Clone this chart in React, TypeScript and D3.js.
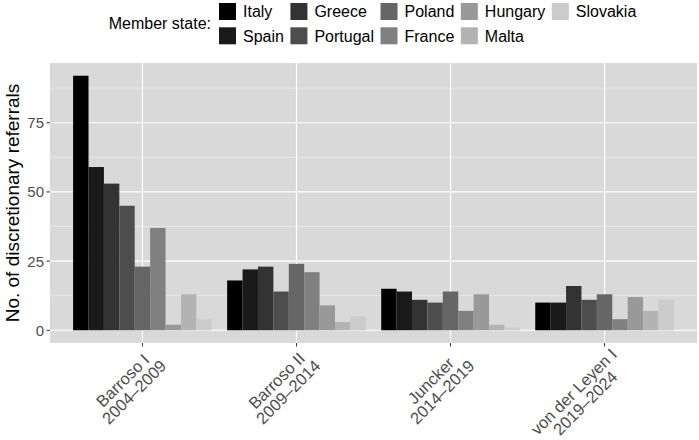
import React, { useEffect, useRef } from 'react'
import * as d3 from 'd3'

const memberStates = ['Italy', 'Spain', 'Greece', 'Portugal', 'Poland', 'France', 'Hungary', 'Malta', 'Slovakia']
const greyShades = ['#000000', '#1A1A1A', '#333333', '#4D4D4D', '#666666', '#808080', '#999999', '#B3B3B3', '#CCCCCC']

const commissionNames = ['Barroso I', 'Barroso II', 'Juncker', 'von der Leyen I']
const commissionTerms = ['2004–2009', '2009–2014', '2014–2019', '2019–2024']

// referrals per member state, same order as memberStates
const barrosoI = [92, 59, 53, 45, 23, 37, 2, 13, 4]
const barrosoII = [18, 22, 23, 14, 24, 21, 9, 3, 5]
const juncker = [15, 14, 11, 10, 14, 7, 13, 2, 1]
const vonDerLeyenI = [10, 10, 16, 11, 13, 4, 12, 7, 11]

const yTicks = [0, 25, 50, 75]
const yMinorTicks = [12.5, 37.5, 62.5, 87.5]

const FONT = "'Liberation Sans', Arial, Helvetica, sans-serif"

export default function App() {
  const svgRef = useRef<SVGSVGElement | null>(null)

  useEffect(() => {
    if (!svgRef.current) {
      return
    }

    const width = 699
    const height = 440
    const panel = { left: 50, right: 697, top: 63, bottom: 343 }

    const svg = d3.select(svgRef.current)
    svg.attr('viewBox', `0 0 ${width} ${height}`)
    svg.selectAll('*').remove()

    const canvas = document.createElement('canvas')
    const ctx = canvas.getContext('2d')
    const measure = (s: string, size: number) => {
      if (!ctx) {
        return s.length * size * 0.55
      }
      ctx.font = `${size}px 'Liberation Sans'`
      return ctx.measureText(s).width
    }

    const series = [barrosoI, barrosoII, juncker, vonDerLeyenI]
    const rows = commissionNames.map((name, i) => ({
      name,
      term: commissionTerms[i],
      values: memberStates.map((state, j) => ({ state, value: series[i][j] }))
    }))

    const maxValue = d3.max(series.flat()) ?? 0
    const yScale = d3
      .scaleLinear()
      .domain([-maxValue * 0.05, maxValue * 1.05])
      .range([panel.bottom, panel.top])

    const xScale = d3
      .scalePoint<string>()
      .domain(commissionNames)
      .range([panel.left, panel.right])
      .padding(0.6)

    const step = xScale.step()
    const inner = d3
      .scaleBand<string>()
      .domain(memberStates)
      .range([-0.45 * step, 0.45 * step])
      .padding(0)

    const fill = d3.scaleOrdinal<string, string>().domain(memberStates).range(greyShades)

    // panel background + grid
    svg
      .append('rect')
      .attr('x', panel.left)
      .attr('y', panel.top)
      .attr('width', panel.right - panel.left)
      .attr('height', panel.bottom - panel.top)
      .attr('fill', '#D9D9D9')

    const grid = svg.append('g')
    grid
      .selectAll('line.minor')
      .data(yMinorTicks)
      .enter()
      .append('line')
      .attr('class', 'minor')
      .attr('x1', panel.left)
      .attr('x2', panel.right)
      .attr('y1', (d) => yScale(d))
      .attr('y2', (d) => yScale(d))
      .attr('stroke', '#F2F2F2')
      .attr('stroke-width', 0.6)

    grid
      .selectAll('line.major')
      .data(yTicks)
      .enter()
      .append('line')
      .attr('class', 'major')
      .attr('x1', panel.left)
      .attr('x2', panel.right)
      .attr('y1', (d) => yScale(d))
      .attr('y2', (d) => yScale(d))
      .attr('stroke', '#FFFFFF')
      .attr('stroke-width', 1.2)

    grid
      .selectAll('line.vmajor')
      .data(commissionNames)
      .enter()
      .append('line')
      .attr('class', 'vmajor')
      .attr('x1', (d) => xScale(d) ?? 0)
      .attr('x2', (d) => xScale(d) ?? 0)
      .attr('y1', panel.top)
      .attr('y2', panel.bottom)
      .attr('stroke', '#FFFFFF')
      .attr('stroke-width', 1.2)

    // bars
    const groups = svg
      .append('g')
      .selectAll('g.group')
      .data(rows)
      .enter()
      .append('g')
      .attr('class', 'group')
      .attr('transform', (d) => `translate(${xScale(d.name) ?? 0},0)`)

    groups
      .selectAll('rect')
      .data((d) => d.values)
      .enter()
      .append('rect')
      .attr('x', (d) => inner(d.state) ?? 0)
      .attr('y', (d) => yScale(d.value))
      .attr('width', inner.bandwidth())
      .attr('height', (d) => yScale(0) - yScale(d.value))
      .attr('fill', (d) => fill(d.state))

    // y axis
    const yAxis = svg.append('g')
    yAxis
      .selectAll('line')
      .data(yTicks)
      .enter()
      .append('line')
      .attr('x1', panel.left - 3.5)
      .attr('x2', panel.left)
      .attr('y1', (d) => yScale(d))
      .attr('y2', (d) => yScale(d))
      .attr('stroke', '#333333')
      .attr('stroke-width', 1)

    yAxis
      .selectAll('text')
      .data(yTicks)
      .enter()
      .append('text')
      .attr('x', panel.left - 6)
      .attr('y', (d) => yScale(d))
      .attr('dy', '0.36em')
      .attr('text-anchor', 'end')
      .attr('font-family', FONT)
      .attr('font-size', 15)
      .attr('fill', '#4D4D4D')
      .text((d) => d)

    svg
      .append('text')
      .attr('transform', `translate(12,${(panel.top + panel.bottom) / 2}) rotate(-90)`)
      .attr('dy', '0.36em')
      .attr('text-anchor', 'middle')
      .attr('font-family', FONT)
      .attr('font-size', 19)
      .attr('fill', '#000000')
      .text('No. of discretionary referrals')

    // x axis
    const xAxis = svg.append('g')
    xAxis
      .selectAll('line')
      .data(commissionNames)
      .enter()
      .append('line')
      .attr('x1', (d) => xScale(d) ?? 0)
      .attr('x2', (d) => xScale(d) ?? 0)
      .attr('y1', panel.bottom)
      .attr('y2', panel.bottom + 3.5)
      .attr('stroke', '#333333')
      .attr('stroke-width', 1)

    const xLabelSize = 16.5
    const labels = xAxis
      .selectAll('text')
      .data(rows)
      .enter()
      .append('text')
      .attr('transform', (d) => `translate(${(xScale(d.name) ?? 0) + 3},${panel.bottom + 2}) rotate(-45)`)
      .attr('text-anchor', 'end')
      .attr('font-family', FONT)
      .attr('font-size', xLabelSize)
      .attr('fill', '#4D4D4D')

    // lines are centred on each other inside a right-aligned block
    const blockWidth = (d: { name: string; term: string }) =>
      Math.max(measure(d.name, xLabelSize), measure(d.term, xLabelSize))

    labels
      .append('tspan')
      .attr('x', (d) => -(blockWidth(d) - measure(d.name, xLabelSize)) / 2)
      .attr('dy', '0.9em')
      .text((d) => d.name)

    labels
      .append('tspan')
      .attr('x', (d) => -(blockWidth(d) - measure(d.term, xLabelSize)) / 2)
      .attr('dy', '0.98em')
      .text((d) => d.term)

    // legend
    const legendFontSize = 16
    const keySize = 17
    const keyGap = 7
    const colGap = 6.5
    const rowTops = [3, 27.3]
    const legendLeft = 219

    const columns = d3.range(Math.ceil(memberStates.length / 2)).map((c) => memberStates.slice(c * 2, c * 2 + 2))
    const columnX: number[] = []
    let cursor = legendLeft
    columns.forEach((col) => {
      columnX.push(cursor)
      cursor += keySize + keyGap + (d3.max(col, (s) => measure(s, legendFontSize)) ?? 0) + colGap
    })

    const legend = svg.append('g')
    legend
      .append('text')
      .attr('x', legendLeft - 8)
      .attr('y', (rowTops[0] + rowTops[1] + keySize) / 2)
      .attr('dy', '0.36em')
      .attr('text-anchor', 'end')
      .attr('font-family', FONT)
      .attr('font-size', legendFontSize)
      .attr('fill', '#000000')
      .text('Member state:')

    const items = legend
      .selectAll('g.item')
      .data(memberStates)
      .enter()
      .append('g')
      .attr('class', 'item')
      .attr('transform', (_, i) => `translate(${columnX[Math.floor(i / 2)]},${rowTops[i % 2]})`)

    items
      .append('rect')
      .attr('width', keySize)
      .attr('height', keySize)
      .attr('fill', (d) => fill(d))

    items
      .append('text')
      .attr('x', keySize + keyGap)
      .attr('y', keySize / 2)
      .attr('dy', '0.36em')
      .attr('font-family', FONT)
      .attr('font-size', legendFontSize)
      .attr('fill', '#000000')
      .text((d) => d)
  }, [])

  return (
    <svg
      ref={svgRef}
      width={699}
      height={440}
      style={{ position: 'absolute', left: 0, top: 0, background: '#FFFFFF' }}
      role="img"
      aria-label="Discretionary referrals by member state and Commission"
    />
  )
}
